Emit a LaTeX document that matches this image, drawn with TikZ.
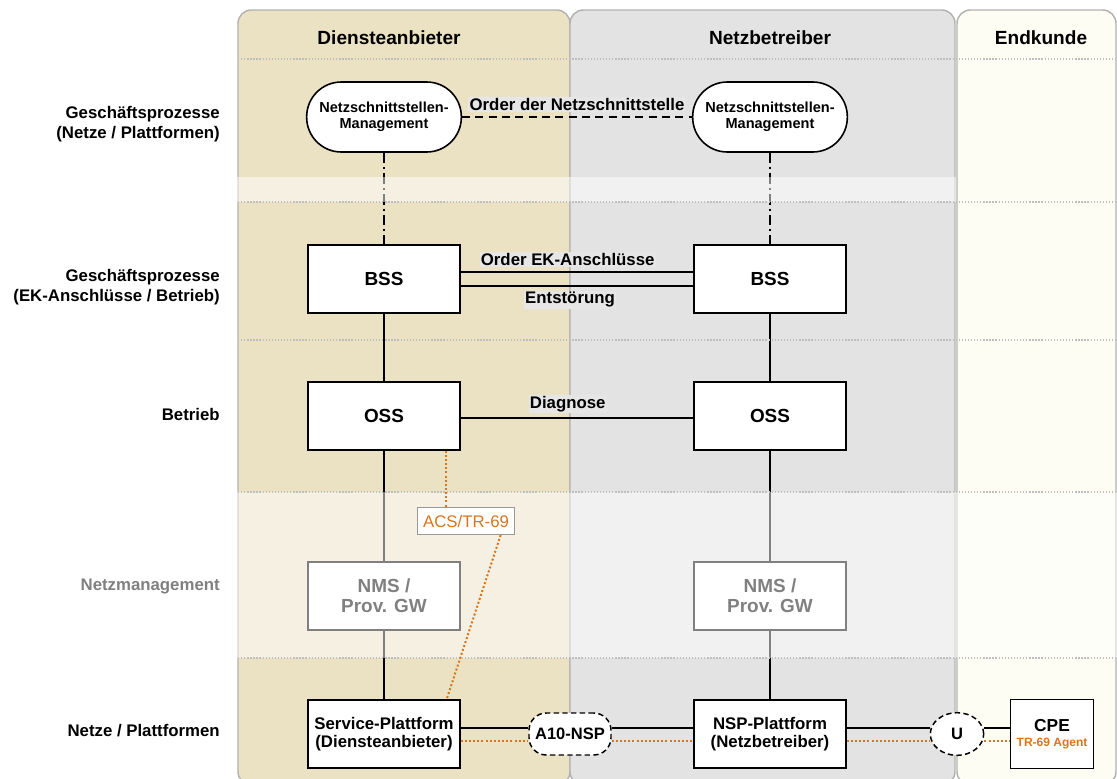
\documentclass[tikz,border=0pt]{standalone}
\usepackage{fontspec}
\setmainfont{Liberation Sans}
\usetikzlibrary{shapes.geometric}
\definecolor{dienst}{RGB}{235,226,196}
\definecolor{netz}{RGB}{227,227,227}
\definecolor{kunde}{RGB}{254,253,243}
\definecolor{rahmen}{RGB}{178,178,178}
\definecolor{trorange}{RGB}{217,117,30}
\definecolor{labelgrau}{RGB}{230,230,230}
\definecolor{punktgrau}{RGB}{190,190,190}
\definecolor{textgrau}{RGB}{128,128,128}
\tikzset{
  panel/.style={draw=rahmen, line width=1.1pt, rounded corners=10pt},
  trenner/.style={punktgrau, line width=0.9pt, dash pattern=on 1pt off 1.3pt},
  kasten/.style={draw, fill=white, line width=1.2pt, minimum width=114pt, minimum height=51pt,
    align=center, font=\fontsize{14.2}{15}\selectfont\bfseries},
  plattform/.style={kasten, font=\fontsize{12.6}{13}\selectfont\bfseries},
  nsm/.style={draw, fill=white, line width=1.2pt, rounded corners=26pt, minimum width=116pt,
    minimum height=52.5pt, align=center, font=\fontsize{10.9}{12}\selectfont\bfseries},
  schnitt/.style={draw, fill=white, line width=1.1pt, dash pattern=on 4pt off 2.5pt, inner sep=1pt,
    font=\fontsize{12.4}{13}\selectfont\bfseries},
  zeile/.style={anchor=east, align=right, inner sep=0pt, font=\fontsize{12.6}{14.5}\selectfont\bfseries},
  kopf/.style={font=\fontsize{14.3}{15}\selectfont\bfseries},
  verbindung/.style={line width=1.3pt},
  beschriftung/.style={fill=labelgrau, inner sep=1pt, font=\fontsize{12.6}{13}\selectfont\bfseries},
  acslinie/.style={trorange, line width=1.5pt, dash pattern=on 1.5pt off 1.6pt},
}
\begin{document}
\begin{tikzpicture}[x=0.75pt, y=-0.75pt]
    \useasboundingbox (0,0) rectangle (1117,778);
    \clip (0,0) rectangle (1117,778);
    % three columns
    \filldraw[panel, fill=dienst] (238,10) rectangle (570,785);
    \filldraw[panel, fill=netz] (570,10) rectangle (955,785);
    \filldraw[panel, fill=kunde] (957,10) rectangle (1116,785);
    % boxes
    \node[nsm] (nsmD) at (384,117) {Netzschnittstellen-\\Management};
    \node[nsm] (nsmN) at (770,117) {Netzschnittstellen-\\Management};
    \node[kasten] (bssD) at (384,279) {BSS};
    \node[kasten] (bssN) at (770,279) {BSS};
    \node[kasten] (ossD) at (384,416) {OSS};
    \node[kasten] (ossN) at (770,416) {OSS};
    \node[kasten] (nmsD) at (384,596) {NMS /\\Prov. GW};
    \node[kasten] (nmsN) at (770,596) {NMS /\\Prov. GW};
    \node[plattform] (platD) at (384,734) {Service-Plattform\\(Diensteanbieter)};
    \node[plattform] (platN) at (770,734) {NSP-Plattform\\(Netzbetreiber)};
    \node[schnitt, rounded corners=13pt, minimum width=61.5pt, minimum height=31.5pt] (a10) at (570,734) {A10-NSP};
    \node[schnitt, ellipse, minimum width=40pt, minimum height=32pt, inner sep=0pt] (u) at (957,734) {U};
    \node[kasten, minimum width=62pt, minimum height=52pt, font=\fontsize{13}{13}\selectfont\bfseries] (cpe) at (1052,734)
        {CPE\\[-2pt]{\color{trorange}\fontsize{9}{10}\selectfont TR-69 Agent}};
    % business links
    \draw[verbindung, dash pattern=on 6pt off 4pt] (nsmD) -- node[beschriftung, above=3pt] {Order der Netzschnittstelle} (nsmN);
    \draw[verbindung] ([yshift=5.25pt]bssD.east) -- node[beschriftung, above=3pt, pos=0.46] {Order EK-Anschlüsse} ([yshift=5.25pt]bssN.west);
    \draw[verbindung] ([yshift=-5.25pt]bssD.east) -- node[beschriftung, below=3pt, pos=0.47] {Entstörung} ([yshift=-5.25pt]bssN.west);
    \draw[verbindung] ([yshift=-1.5pt]ossD.east) -- node[beschriftung, above=3pt, pos=0.46] {Diagnose} ([yshift=-1.5pt]ossN.west);
    % vertical chains
    \foreach \s in {D,N}{%
      \draw[verbindung, dash pattern=on 8pt off 3pt on 1.5pt off 3pt] (nsm\s) -- (bss\s);
      \draw[verbindung] (bss\s) -- (oss\s);
      \draw[verbindung] (oss\s) -- (nms\s);
      \draw[verbindung] (nms\s) -- (plat\s);}
    % platform links
    \draw[verbindung] ([yshift=4.5pt]platD.east) -- ([yshift=4.5pt]platD.east -| a10.west);
    \draw[verbindung] ([yshift=4.5pt]a10.east) -- ([yshift=4.5pt]a10.east -| platN.west);
    \draw[verbindung] ([yshift=4.5pt]platN.east) -- ([yshift=4.5pt]platN.east -| u.west);
    \draw[verbindung] ([yshift=4.5pt]u.east) -- ([yshift=4.5pt]u.east -| cpe.west);
    % faded bands
    \fill[white, opacity=0.5] (237,177) rectangle (956,202);
    \fill[white, opacity=0.5] (237,492) rectangle (1117,658);
    \foreach \y in {59,202,340,492,658}
      \draw[trenner] (238,\y) -- (1117,\y);% row separators
    % TR-69
    \node[draw=textgrau!80, fill=white, line width=1.1pt, minimum width=73pt, minimum height=20pt, inner sep=1pt,
        text=trorange, font=\fontsize{12.6}{13}\selectfont] (acs) at (466,521) {ACS/TR-69};
    \draw[acslinie] ([xshift=46.5pt]ossD.south) -- ([xshift=46.5pt]ossD.south |- acs.north);
    \draw[acslinie] ([xshift=26pt]acs.south) -- ([xshift=47pt]platD.north);
    \draw[acslinie] ([yshift=-5pt]platD.east) -- ([yshift=-5pt]platD.east -| a10.west);
    \draw[acslinie] ([yshift=-5pt]a10.east) -- ([yshift=-5pt]a10.east -| platN.west);
    \draw[acslinie] ([yshift=-5pt]platN.east) -- ([yshift=-5pt]platN.east -| u.west);
    \draw[acslinie] ([yshift=-5pt]u.east) -- ([yshift=-5pt]u.east -| cpe.west);
    % headings
    \node[kopf] (kopfD) at (389,38) {Diensteanbieter};
    \node[kopf] (kopfN) at (770,38) {Netzbetreiber};
    \node[kopf] (kopfE) at (1041,38) {Endkunde};
    \node[zeile] (zeileA) at (220,124) {Geschäftsprozesse\\(Netze / Plattformen)};
    \node[zeile] (zeileB) at (220,287) {Geschäftsprozesse\\(EK-Anschlüsse / Betrieb)};
    \node[zeile] (zeileC) at (220,414) {Betrieb};
    \node[zeile, text=textgrau] (zeileD) at (220,586) {Netzmanagement};
    \node[zeile] (zeileE) at (220,731) {Netze / Plattformen};
\end{tikzpicture}
\end{document}
